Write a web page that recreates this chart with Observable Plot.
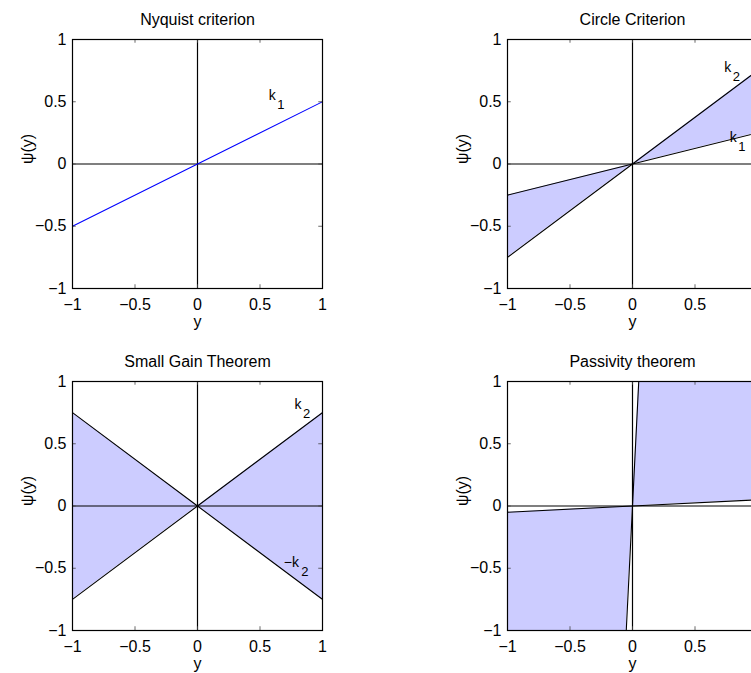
<!DOCTYPE html>
<html><head><meta charset="utf-8">
<script src="https://cdn.jsdelivr.net/npm/d3@7"></script>
<script src="https://cdn.jsdelivr.net/npm/@observablehq/plot@0.6"></script>
<style>
html,body{margin:0;padding:0;background:#fff;}
#root{position:relative;width:751px;height:673px;overflow:hidden;background:#fff;}
#root > div{position:absolute;width:320px;}
#root svg{max-width:none !important;}
</style></head><body><div id="root"></div>
<script>
// ---- data ----
const titles = ["Nyquist criterion", "Circle Criterion", "Small Gain Theorem", "Passivity theorem"];
const xs = [-1, 0, 1];
const tickValues = [-1, -0.5, 0, 0.5, 1];
const visibleRightTicks = [-1, -0.5, 0, 0.5]; // x = 1 label lies outside the window in the right column
const nyquistGains = [0.5];
const circleGains = [0.25, 0.75];
const smallGainGains = [-0.75, 0.75];
const passivityGains = [0.05, 20];
const nyquistLabels = [{x: 0.57, y: 0.516, main: "k", sub: "1", subDx: 8.5}];
const circleLabels = [
  {x: 0.733, y: 0.737, main: "k", sub: "2", subDx: 8.5},
  {x: 0.778, y: 0.175, main: "k", sub: "1", subDx: 8.5}
];
const smallGainLabels = [
  {x: 0.776, y: 0.78, main: "k", sub: "2", subDx: 8.5},
  {x: 0.69, y: -0.49, main: "\u2212k", sub: "2", subDx: 17.5}
];
const passivityLabels = [];
const xLabel = "y";
const yLabel = "\u03c8(y)";

const FONT = "'Liberation Sans', Arial, Helvetica, sans-serif";
const ML = 60, MR = 10, MT = 35, MB = 45, W = 320, H = 329;

const panels = [
  {title: titles[0], gains: nyquistGains, fill: false, stroke: "#0000ff", labels: nyquistLabels, xticks: tickValues, left: 12, top: 4},
  {title: titles[1], gains: circleGains, fill: true, stroke: "black", labels: circleLabels, xticks: visibleRightTicks, left: 447, top: 4},
  {title: titles[2], gains: smallGainGains, fill: true, stroke: "black", labels: smallGainLabels, xticks: tickValues, left: 12, top: 346},
  {title: titles[3], gains: passivityGains, fill: true, stroke: "black", labels: passivityLabels, xticks: visibleRightTicks, left: 447, top: 346}
];

const root = document.getElementById("root");
const tickLen = 0.03;

for (const p of panels) {
  const marks = [];
  if (p.fill) {
    const [g1, g2] = p.gains;
    marks.push(Plot.areaY(xs, {x: d => d, y1: d => g1 * d, y2: d => g2 * d, fill: "#ccccff", clip: true}));
  }
  marks.push(Plot.ruleX([0], {stroke: "black", strokeWidth: 1.2}));
  marks.push(Plot.ruleY([0], {stroke: "black", strokeWidth: 1.2}));
  for (const g of p.gains) {
    marks.push(Plot.line(xs, {x: d => d, y: d => g * d, stroke: p.stroke, strokeWidth: 1.1, clip: true}));
  }
  // inward ticks
  const inner = tickValues.slice(1, -1);
  marks.push(Plot.ruleX(inner, {x: d => d, y1: -1, y2: -1 + tickLen, stroke: "#444", strokeWidth: 0.8}));
  marks.push(Plot.ruleX(inner, {x: d => d, y1: 1, y2: 1 - tickLen, stroke: "#444", strokeWidth: 0.8}));
  marks.push(Plot.ruleY(inner, {y: d => d, x1: -1, x2: -1 + tickLen, stroke: "#444", strokeWidth: 0.8}));
  marks.push(Plot.ruleY(inner, {y: d => d, x1: 1, x2: 1 - tickLen, stroke: "#444", strokeWidth: 0.8}));
  marks.push(Plot.frame({stroke: "black", strokeWidth: 1.2}));
  marks.push(Plot.axisX(p.xticks, {anchor: "bottom", tickSize: 0, tickPadding: 10, fontSize: 16, label: null, tickFormat: d3.format("")}));
  marks.push(Plot.axisY(tickValues, {anchor: "left", tickSize: 0, tickPadding: 6, fontSize: 16, label: null, tickFormat: d3.format("")}));
  // labels k
  for (const L of p.labels) {
    marks.push(Plot.text([L], {x: "x", y: "y", text: "main", textAnchor: "start", lineAnchor: "bottom", fontSize: 14, fill: "black"}));
    marks.push(Plot.text([L], {x: "x", y: "y", text: "sub", textAnchor: "start", lineAnchor: "bottom", fontSize: 13, dx: L.subDx, dy: 9, fill: "black"}));
  }
  // title & axis labels
  marks.push(Plot.text([p.title], {text: d => d, frameAnchor: "top", dy: -15, lineAnchor: "bottom", fontSize: 16, fill: "black"}));
  marks.push(Plot.text([xLabel], {text: d => d, frameAnchor: "bottom", dy: 38, lineAnchor: "bottom", fontSize: 16, fill: "black"}));
  marks.push(Plot.text([yLabel], {text: d => d, frameAnchor: "left", dx: -45, rotate: -90, lineAnchor: "middle", fontSize: 16, fill: "black"}));

  const chart = Plot.plot({
    width: W, height: H,
    marginLeft: ML, marginRight: MR, marginTop: MT, marginBottom: MB,
    x: {domain: [-1, 1]},
    y: {domain: [-1, 1]},
    style: {fontFamily: FONT, background: "white", color: "black", overflow: "visible", maxWidth: "none"},
    marks
  });
  const wrap = document.createElement("div");
  wrap.style.left = p.left + "px";
  wrap.style.top = p.top + "px";
  wrap.appendChild(chart);
  root.appendChild(wrap);
}
</script>
</body></html>
